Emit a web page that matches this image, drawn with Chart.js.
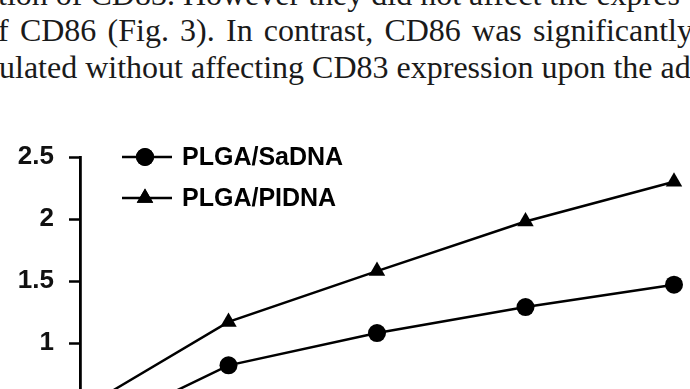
<!DOCTYPE html>
<html>
<head>
<meta charset="utf-8">
<script src="https://cdn.jsdelivr.net/npm/chart.js@4/dist/chart.umd.min.js"></script>
<style>
  html, body { margin: 0; padding: 0; background: #fff; }
  body { width: 690px; height: 389px; overflow: hidden; position: relative; }
  .txt { position: absolute; left: 0; font-family: "Liberation Serif", "Times New Roman", serif; font-size: 32px; color: #1a1a1a; white-space: nowrap; line-height: 1; }
  #l2 { width: 695px; text-align: justify; text-align-last: justify; white-space: normal; }
  #wrap { position: absolute; left: 0; top: 0; width: 690px; height: 520px; }
</style>
</head>
<body>
<div class="txt" id="l1" style="top:-22px; left:-2px;">tion of CD83. However they did not affect the expres</div>
<div class="txt" id="l2" style="top:14px; left:-2px;">f CD86 (Fig. 3). In contrast, CD86 was significantly</div>
<div class="txt" id="l3" style="top:51px; left:-1px;">ulated without affecting CD83 expression upon the ad</div>
<div id="wrap"><canvas id="c"></canvas></div>
<script>
const categories = ["0", "1", "2", "3", "4"];
const seriesNames = ["PLGA/SaDNA", "PLGA/PIDNA"];
const saDNA = [0.24, 0.82, 1.08, 1.29, 1.47];
const piDNA = [0.46, 1.17, 1.58, 1.98, 2.30];
const yTickLabels = ["0", "0.5", "1", "1.5", "2", "2.5"];
const yTickValues = [0, 0.5, 1, 1.5, 2, 2.5];

const legendPlugin = {
  id: 'innerLegend',
  afterDraw(chart) {
    const ctx = chart.ctx;
    const a = chart.chartArea;
    const x0 = a.left + 42, x1 = a.left + 92, mx = a.left + 65;
    chart.data.datasets.forEach((ds, i) => {
      const y = a.top + i * 41;
      ctx.save();
      ctx.strokeStyle = '#000';
      ctx.lineWidth = 2.5;
      ctx.beginPath(); ctx.moveTo(x0, y); ctx.lineTo(x1, y); ctx.stroke();
      Chart.helpers.drawPoint(ctx, { pointStyle: ds.pointStyle, radius: ds.pointRadius, borderWidth: 0 }, mx, y);
      ctx.fillStyle = '#000';
      ctx.fill();
      ctx.font = 'bold 25px "Liberation Sans", Arial, sans-serif';
      ctx.textBaseline = 'middle';
      ctx.textAlign = 'left';
      ctx.fillText(ds.label, a.left + 102, y + 1);
      ctx.restore();
    });
  }
};

new Chart(document.getElementById('c'), {
  type: 'line',
  data: {
    labels: categories,
    datasets: [
      { label: seriesNames[0], data: saDNA, borderColor: '#000', backgroundColor: '#000',
        borderWidth: 2.5, pointStyle: 'circle', pointRadius: 9, pointBorderWidth: 0, clip: false },
      { label: seriesNames[1], data: piDNA, borderColor: '#000', backgroundColor: '#000',
        borderWidth: 2.5, pointStyle: 'triangle', pointRadius: 9.5, pointBorderWidth: 0, clip: false }
    ]
  },
  options: {
    responsive: true,
    maintainAspectRatio: false,
    animation: false,
    events: [],
    layout: { padding: { top: 157, right: 16, bottom: 53, left: 0 } },
    plugins: { legend: { display: false }, tooltip: { enabled: false } },
    scales: {
      x: { type: 'category', offset: false, display: false },
      y: {
        min: 0, max: 2.5,
        afterFit(scale) { scale.width = 80; },
        afterBuildTicks(scale) { scale.ticks = yTickValues.map(v => ({ value: v })); },
        border: { display: true, color: '#000', width: 2.8 },
        grid: { drawOnChartArea: false, drawTicks: true, tickLength: 11, tickColor: '#000', tickWidth: 2.5 },
        ticks: {
          padding: 15, color: '#111',
          font: { family: '"Liberation Sans", Arial, sans-serif', size: 26, weight: 'bold' },
          callback: (v) => yTickLabels[yTickValues.indexOf(v)]
        }
      }
    }
  },
  plugins: [legendPlugin]
});
</script>
</body>
</html>
